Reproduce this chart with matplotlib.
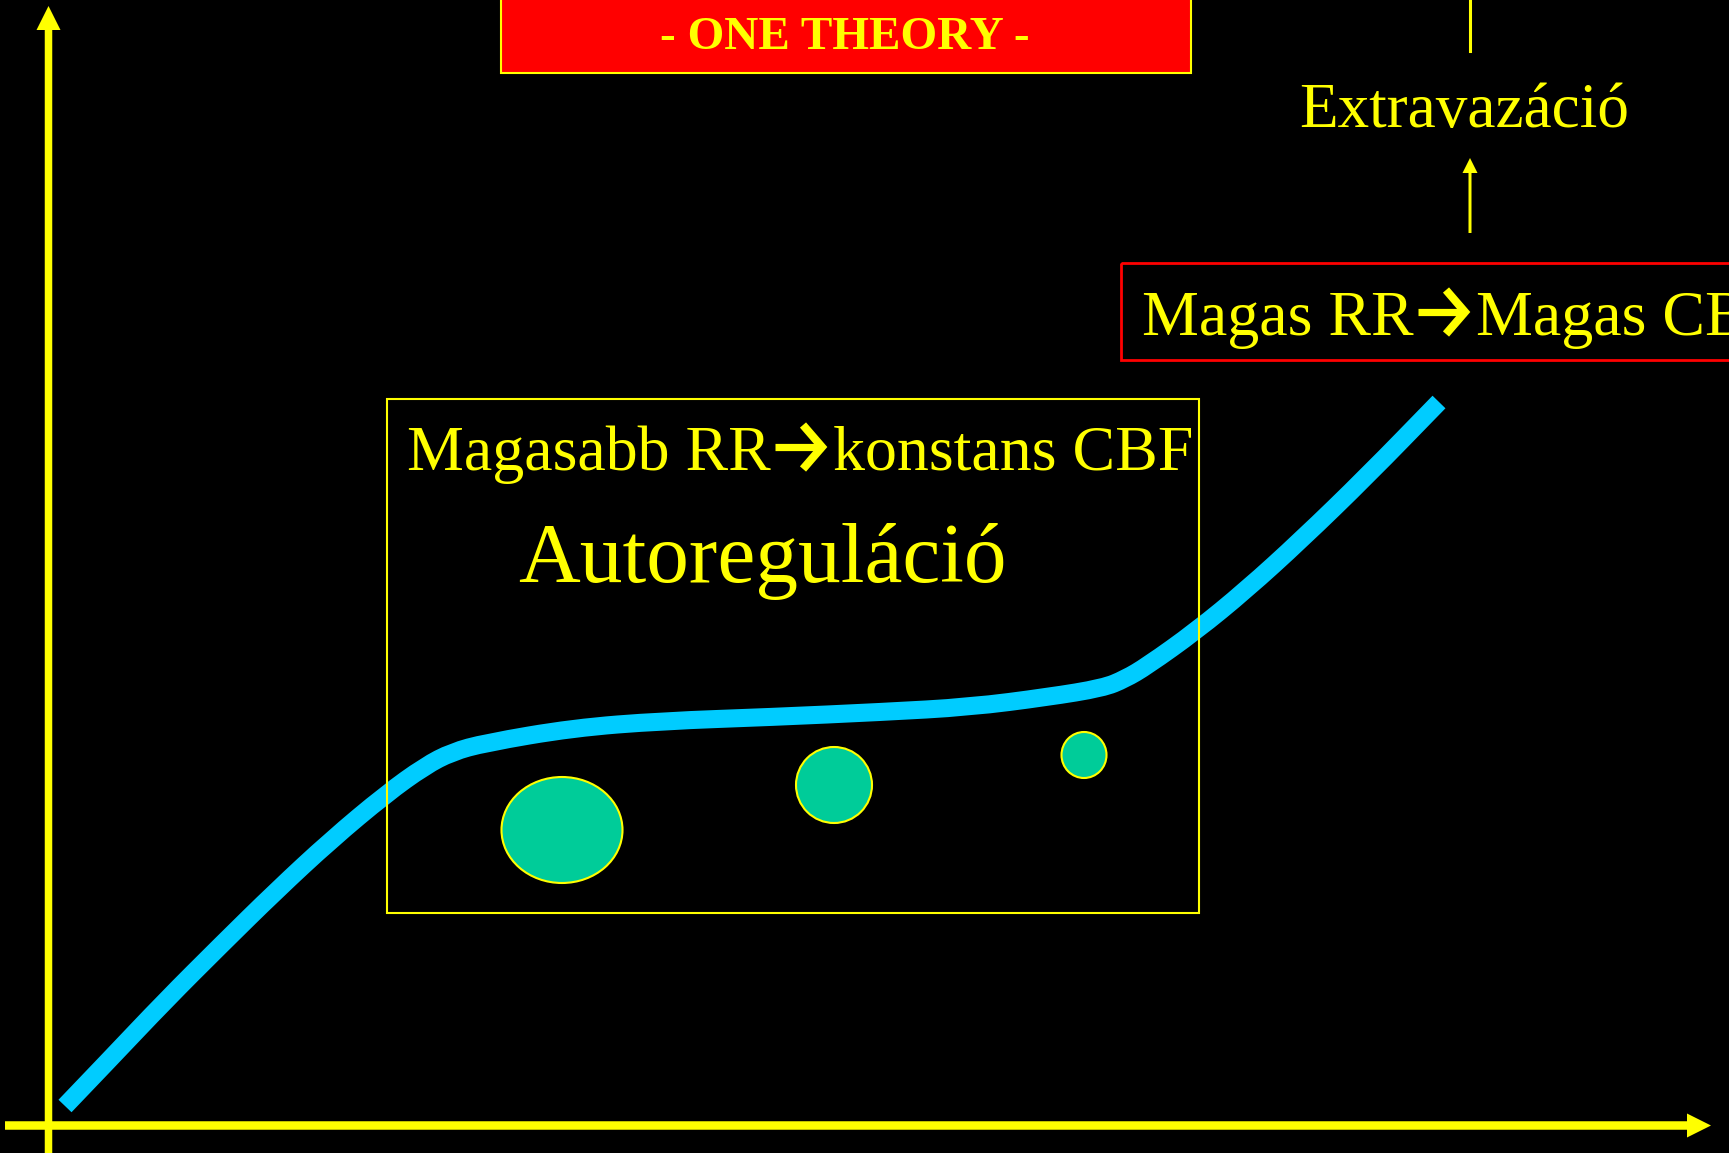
import matplotlib.pyplot as plt
from matplotlib.patches import Rectangle, Ellipse, PathPatch
from matplotlib.path import Path

W, H = 1729, 1153

YELLOW = "#FFFF00"
RED = "#FF0000"
CYAN = "#00CCFF"
TEAL = "#00CC99"
SERIF = ["Liberation Serif", "DejaVu Serif"]

# autoregulation curve, traced in slide pixels (x right, y down)
curve_x = [65, 110, 165, 221, 276, 331, 386, 425, 452, 485, 573, 662, 772,
           882, 970, 1048, 1103, 1125, 1147, 1196, 1246, 1301, 1367, 1439]
curve_y = [1106, 1059, 1001, 945, 891, 840, 794, 766, 752, 743, 728, 721, 717,
           712, 707, 697, 688, 679, 666, 631, 590, 540, 476, 402]

# vessel cross-sections (centre x, centre y, width, height)
bubble_x = [562, 834, 1084]
bubble_y = [830, 785, 755]
bubble_w = [121, 76, 45]
bubble_h = [106, 76, 46]

title_text = "- ONE THEORY -"
auto_lines = ["Magasabb RR", "konstans CBF"]
auto_title = "Autoreguláció"
high_lines = ["Magas RR", "Magas CBF"]
extra_text = "Extravazáció"

fig = plt.figure(figsize=(W / 100, H / 100), dpi=100, facecolor="black")
ax = fig.add_axes([0, 0, 1, 1])
ax.set_facecolor("black")
ax.set_xlim(0, W)
ax.set_ylim(H, 0)
ax.axis("off")

# axes arrows
ax.arrow(48.5, H, 0, 6 - H, width=7.5, head_width=24, head_length=24,
         length_includes_head=True, color=YELLOW, lw=0, zorder=3)
ax.arrow(5, 1125.5, 1711 - 5, 0, width=8.5, head_width=24, head_length=24,
         length_includes_head=True, color=YELLOW, lw=0, zorder=3)

# curve, drawn as a smooth quadratic path through the traced points
verts = [(curve_x[0], curve_y[0])]
codes = [Path.MOVETO]
for i in range(1, len(curve_x) - 1):
    verts.append((curve_x[i], curve_y[i]))
    verts.append(((curve_x[i] + curve_x[i + 1]) / 2, (curve_y[i] + curve_y[i + 1]) / 2))
    codes += [Path.CURVE3, Path.CURVE3]
verts.append((curve_x[-1], curve_y[-1]))
codes.append(Path.LINETO)
ax.add_patch(PathPatch(Path(verts, codes), fill=False, edgecolor=CYAN, lw=13,
                       capstyle="butt", joinstyle="round", zorder=2))

# bubbles
for x, y, w, h in zip(bubble_x, bubble_y, bubble_w, bubble_h):
    ax.add_patch(Ellipse((x, y), w, h, facecolor=TEAL, edgecolor=YELLOW,
                         lw=1.5, zorder=4))

# autoregulation box
ax.add_patch(Rectangle((387, 399), 1199 - 387, 913 - 399, fill=False,
                       edgecolor=YELLOW, lw=1.5, zorder=5))


def bold_arrow(x0, x1, yc, color):
    # chevron arrow like the slide's symbol-font arrow
    ax.plot([x0, x1 - 4], [yc, yc], color=color, lw=5.2,
            solid_capstyle="butt", zorder=6)
    ax.plot([x1 - 24, x1 - 5, x1 - 24], [yc - 22, yc, yc + 22], color=color,
            lw=5.8, solid_capstyle="butt", solid_joinstyle="miter", zorder=6)


def arrow_label(x_left, x_arrow, x_right, base, parts, size, color):
    ax.text(x_left, base, parts[0], color=color, fontsize=size, family=SERIF,
            ha="left", va="baseline", zorder=6)
    bold_arrow(x_arrow, x_arrow + 52, base - 23, color)
    ax.text(x_right, base, parts[1], color=color, fontsize=size, family=SERIF,
            ha="left", va="baseline", zorder=6)


arrow_label(407, 775, 833, 470, auto_lines, 46, YELLOW)
ax.text(762, 582, auto_title, color=YELLOW, fontsize=61.5, family=SERIF,
        ha="center", va="baseline", zorder=6)

# high pressure box
ax.add_patch(Rectangle((1121, 263), 800, 360 - 263, fill=False,
                       edgecolor=RED, lw=2, zorder=5))
arrow_label(1142, 1418, 1476, 335, high_lines, 46, YELLOW)

# extravasation
ax.arrow(1470, 233, 0, 158 - 233, width=3, head_width=15, head_length=15,
         length_includes_head=True, color=YELLOW, lw=0, zorder=3)
ax.plot([1470, 1470], [0, 51], color=YELLOW, lw=2.2)
ax.text(1464, 127, extra_text, color=YELLOW, fontsize=45.5, family=SERIF,
        ha="center", va="baseline")

# title banner
ax.add_patch(Rectangle((501, -20), 1191 - 501, 72.5 + 20, facecolor=RED,
                       edgecolor=YELLOW, lw=1.5, zorder=5))
ax.text(845, 49, title_text, color=YELLOW, fontsize=34, family=SERIF,
        fontweight="bold", ha="center", va="baseline", zorder=6)

fig.savefig("out.png", dpi=100, facecolor="black")
